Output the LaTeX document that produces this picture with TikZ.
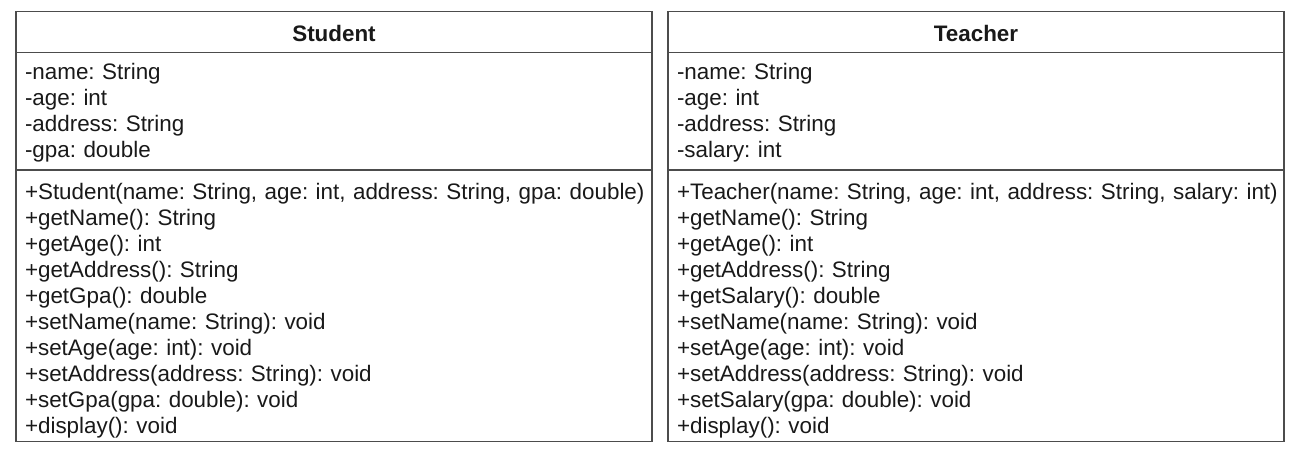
\documentclass[tikz,border=0pt]{standalone}
\usepackage{fontspec}
\setmainfont{Liberation Sans}
\usepackage{tikz}
\usetikzlibrary{positioning}

\begin{document}
\begin{tikzpicture}[
            x=1pt,y=-1pt,
            umlclass/.style={draw=black!70,line width=1.3pt,rectangle,inner xsep=9pt,inner ysep=0pt,outer sep=0pt,text=black!90,font=\fontsize{22.4}{26}\selectfont\frenchspacing},
            classname/.style={umlclass,align=center,font=\fontsize{22.4}{26}\selectfont\bfseries,text height=30pt,text depth=11pt},
            fields/.style={umlclass,align=left,text height=26.5pt,text depth=91pt},
            methods/.style={umlclass,align=left,text height=29pt,text depth=242.5pt},
            node distance=0pt
          ]
          \useasboundingbox (0,0) rectangle (1296,448);

          %Student
          \node[classname,text width=618pt,anchor=north west] (student) at (16,11.5) {Student};
          \node[fields,text width=618pt,below=of student] (studentattr) {-name: String\\-age: int\\-address: String\\-gpa: double};
          \node[methods,text width=618pt,below=of studentattr] (studentops) {\mbox{+Student(name: String, age: int, address: String, gpa: double)}\\+getName(): String\\+getAge(): int\\+getAddress(): String\\+getGpa(): double\\+setName(name: String): void\\+setAge(age: int): void\\+setAddress(address: String): void\\+setGpa(gpa: double): void\\+display(): void};

          %Teacher
          \node[classname,text width=598pt,right=16pt of student] (teacher) {Teacher};
          \node[fields,text width=598pt,below=of teacher] (teacherattr) {-name: String\\-age: int\\-address: String\\-salary: int};
          \node[methods,text width=598pt,below=of teacherattr] (teacherops) {\mbox{+Teacher(name: String, age: int, address: String, salary: int)}\\+getName(): String\\+getAge(): int\\+getAddress(): String\\+getSalary(): double\\+setName(name: String): void\\+setAge(age: int): void\\+setAddress(address: String): void\\+setSalary(gpa: double): void\\+display(): void};

      \end{tikzpicture}
\end{document}
